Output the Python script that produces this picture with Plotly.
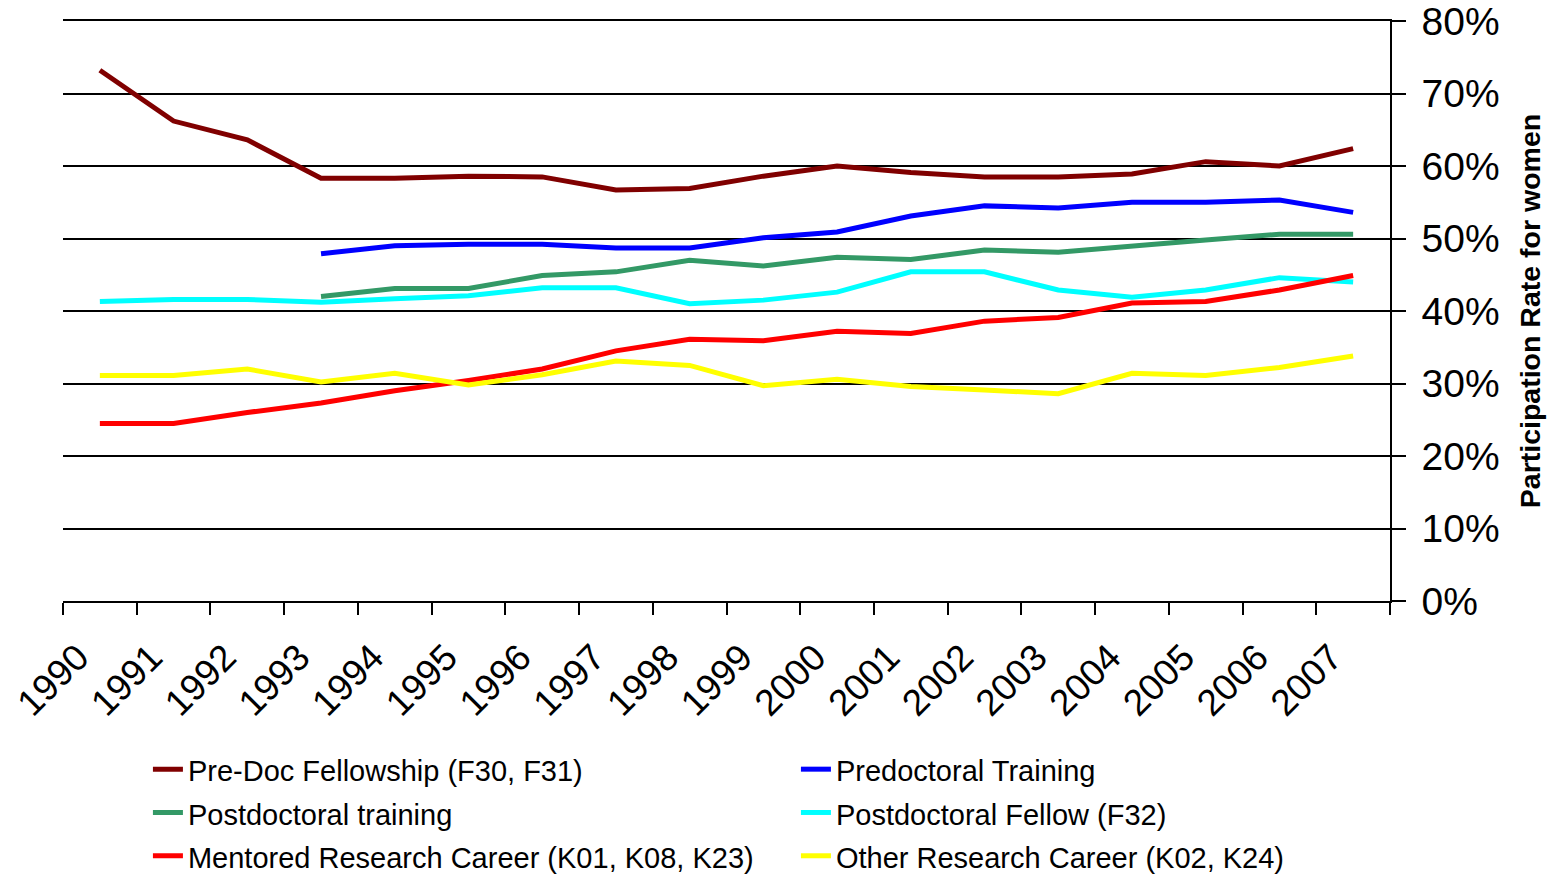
import plotly.graph_objects as go

years = [str(y) for y in range(1990, 2008)]

pre_doc_fellowship = [73.2, 66.2, 63.6, 58.3, 58.3, 58.6, 58.5, 56.7, 56.9, 58.6,
                      60.0, 59.1, 58.5, 58.5, 58.9, 60.6, 60.0, 62.4]
predoctoral_training = [None, None, None, 47.9, 49.0, 49.2, 49.2, 48.7, 48.7, 50.1,
                        50.9, 53.1, 54.5, 54.2, 55.0, 55.0, 55.3, 53.6]
postdoctoral_training = [None, None, None, 42.0, 43.1, 43.1, 44.9, 45.4, 47.0, 46.2,
                         47.4, 47.1, 48.4, 48.1, 49.0, 49.8, 50.6, 50.6]
postdoctoral_fellow = [41.3, 41.6, 41.6, 41.2, 41.7, 42.1, 43.2, 43.2, 41.0, 41.5,
                       42.6, 45.4, 45.4, 42.9, 41.9, 42.9, 44.6, 44.0]
mentored_career = [24.5, 24.5, 26.0, 27.3, 29.0, 30.4, 32.0, 34.5, 36.1, 35.9,
                   37.2, 36.9, 38.6, 39.1, 41.1, 41.3, 42.9, 44.9]
other_career = [31.1, 31.1, 32.0, 30.2, 31.4, 29.8, 31.2, 33.1, 32.5, 29.7,
                30.6, 29.6, 29.1, 28.6, 31.4, 31.1, 32.2, 33.8]

series = [
    ("Pre-Doc Fellowship (F30, F31)", pre_doc_fellowship, "#800000"),
    ("Predoctoral Training", predoctoral_training, "#0000FF"),
    ("Postdoctoral training", postdoctoral_training, "#339966"),
    ("Postdoctoral Fellow (F32)", postdoctoral_fellow, "#00FFFF"),
    ("Mentored Research Career (K01, K08, K23)", mentored_career, "#FF0000"),
    ("Other Research Career (K02, K24)", other_career, "#FFFF00"),
]

fig = go.Figure()
for name, vals, color in series:
    fig.add_trace(go.Scatter(
        x=years, y=vals,
        name='<span style="font-size:29px">' + name + '</span>',
        mode="lines",
        line=dict(color=color, width=5),
    ))

FONT = "Arial, Liberation Sans, sans-serif"

fig.update_layout(
    width=1558, height=875,
    margin=dict(l=63, r=168, t=21, b=274, autoexpand=False),
    paper_bgcolor="white", plot_bgcolor="white",
    font=dict(family=FONT, color="black"),
    showlegend=True,
    legend=dict(
        orientation="h",
        x=0.064, xanchor="left",
        y=-0.244, yanchor="top",
        entrywidth=603, entrywidthmode="pixels",
        font=dict(size=31, family=FONT, color="black"),
        bgcolor="rgba(0,0,0,0)",
        itemwidth=30,
    ),
    xaxis=dict(
        type="category",
        range=[-0.5, 17.5],
        tickson="boundaries",
        ticks="outside", ticklen=12, tickwidth=1.5, tickcolor="black",
        showgrid=False,
        showline=True, mirror=True, linecolor="black", linewidth=1.5,
        tickangle=-45,
        tickfont=dict(size=37, family=FONT, color="black"),
        ticklabelstandoff=18,
        ticklabelshift=-22,
        zeroline=False,
    ),
    yaxis=dict(
        side="right",
        range=[0, 80],
        dtick=10,
        ticksuffix="%",
        ticks="outside", ticklen=14, tickwidth=1.5, tickcolor="black",
        showgrid=True, gridcolor="black", gridwidth=1.5,
        showline=True, linecolor="black", linewidth=1.5,
        zeroline=False,
        tickfont=dict(size=39, family=FONT, color="black"),
        ticklabelstandoff=8,
        ticklabeloverflow="allow",
        title=dict(
            text="<b>Participation Rate for women</b>",
            font=dict(size=28.5, family=FONT, color="black"),
            standoff=21,
        ),
    ),
)

fig.write_html(
    "out.html",
    config={"displayModeBar": False},
    post_script="document.body.style.margin='0';",
)
